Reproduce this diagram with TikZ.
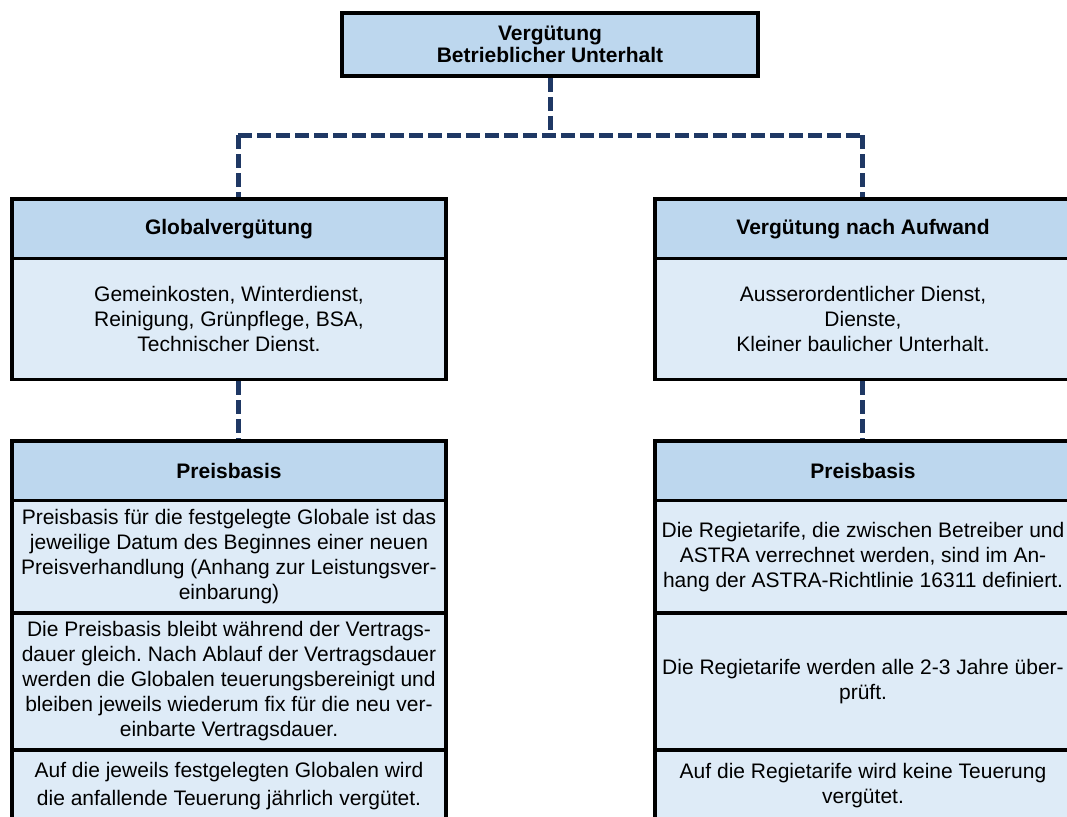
\documentclass[tikz,border=0pt]{standalone}
\usepackage{fontspec}
\setmainfont{Liberation Sans}
\usepackage{tikz}
\frenchspacing

\definecolor{hdrblue}{RGB}{189,215,238}
\definecolor{bodyblue}{RGB}{222,235,247}
\definecolor{connblue}{RGB}{31,56,100}

\begin{document}
\begin{tikzpicture}[x=1pt, y=-1pt,
	cell/.style={shape=rectangle, draw=black, line width=3.5pt, inner sep=0pt, align=center,
		font=\fontsize{21}{25}\selectfont},
	hdr/.style={cell, fill=hdrblue, font=\fontsize{21}{22}\selectfont\bfseries},
	txt/.style={cell, fill=bodyblue},
	conn/.style={draw=connblue, line width=5pt, dash pattern=on 14pt off 5pt}]

	\useasboundingbox (0,0) rectangle (1067,816);
	\clip (0,0) rectangle (1067,816);

	% connector joints
	\coordinate (jl) at (238, 135);
	\coordinate (jm) at (550, 135);
	\coordinate (jr) at (862, 135);

	\node[hdr, minimum width=416, minimum height=63] (top) at (550, 44.5)   {Vergütung\\Betrieblicher Unterhalt};

	\node[hdr, minimum width=434, minimum height=59.5] (glob) at (229, 228.75)   {Globalvergütung};
	\node[txt, minimum width=434, minimum height=121] (globtxt) at (229, 319)   {Gemeinkosten, Winterdienst,\\Reinigung, Grünpflege, BSA,\\Technischer Dienst.};

	\node[hdr, minimum width=416, minimum height=59.5] (aufw) at (863, 228.75)   {Vergütung nach Aufwand};
	\node[txt, minimum width=416, minimum height=121] (aufwtxt) at (863, 319)   {Ausserordentlicher Dienst,\\Dienste,\\Kleiner baulicher Unterhalt.};

	% Preisbasis links
	\node[hdr, minimum width=434, minimum height=59.5] (preisL) at (229, 470.75)   {Preisbasis};
	\node[txt, minimum width=434, minimum height=112.5] (preisLa) at (229, 556.75)   {Preisbasis für die festgelegte Globale ist das\\jeweilige Datum des Beginnes einer neuen\\Preisverhandlung (Anhang zur Leistungsver-\\einbarung)};
	\node[txt, minimum width=434, minimum height=137] (preisLb) at (229, 681.5)   {Die Preisbasis bleibt während der Vertrags-\\dauer gleich. Nach Ablauf der Vertragsdauer\\werden die Globalen teuerungsbereinigt und\\bleiben jeweils wiederum fix für die neu ver-\\einbarte Vertragsdauer.};
	\node[txt, minimum width=434, minimum height=72, font=\fontsize{21}{28}\selectfont] (preisLc) at (229, 786)   {Auf die jeweils festgelegten Globalen wird\\die anfallende Teuerung jährlich vergütet.};

	% Preisbasis rechts
	\node[hdr, minimum width=416, minimum height=59.5] (preisR) at (863, 470.75)   {Preisbasis};
	\node[txt, minimum width=416, minimum height=112.5] (preisRa) at (863, 556.75)   {Die Regietarife, die zwischen Betreiber und\\ASTRA verrechnet werden, sind im An-\\hang der ASTRA-Richtlinie 16311 definiert.};
	\node[txt, minimum width=416, minimum height=137] (preisRb) at (863, 681.5)   {Die Regietarife werden alle 2-3 Jahre über-\\prüft.};
	\node[txt, minimum width=416, minimum height=72] (preisRc) at (863, 786)   {Auf die Regietarife wird keine Teuerung\\vergütet.};

	\path[conn] (top.south) edge (jm);
	\path[conn] (jl) edge (jr);
	\path[conn] (jl) edge (jl |- glob.north);
	\path[conn] (jr) edge (jr |- aufw.north);

	\path[conn] (jl |- globtxt.south) edge (jl |- preisL.north);
	\path[conn] (jr |- aufwtxt.south) edge (jr |- preisR.north);

\end{tikzpicture}
\end{document}
